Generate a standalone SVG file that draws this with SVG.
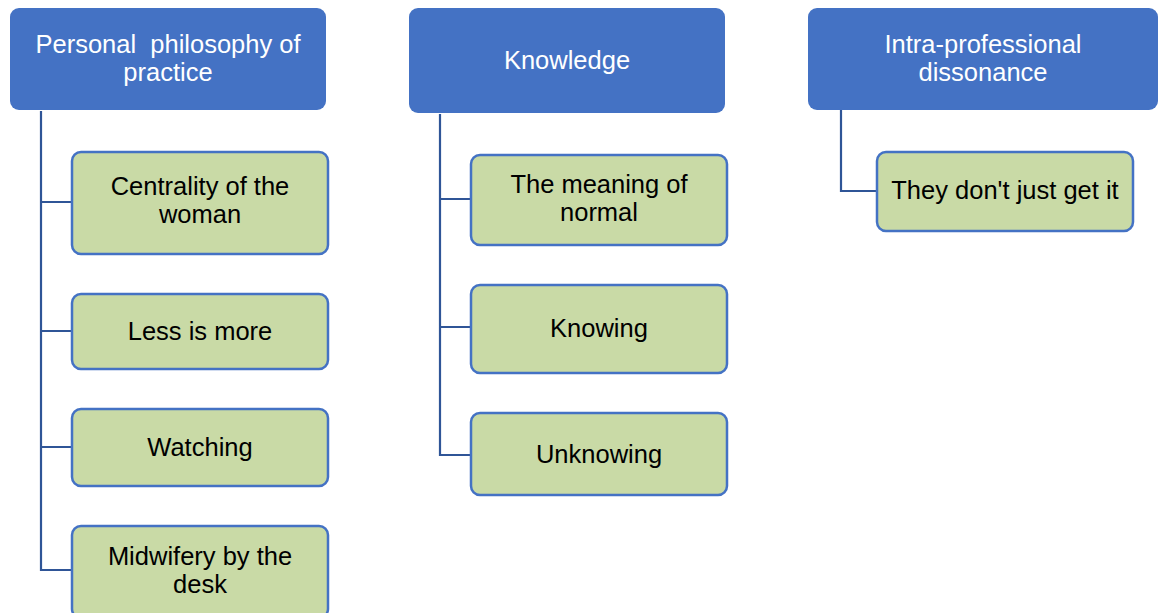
<svg xmlns="http://www.w3.org/2000/svg" width="1159" height="613" viewBox="0 0 1159 613">
<style>
.hdr{fill:#4472C4;}
.sub{fill:#C9DAA6;stroke:#4472C4;stroke-width:2.5;}
.conn{fill:none;stroke:#2F5597;stroke-width:2.2;}
text{font-family:"Liberation Sans",Arial,sans-serif;font-size:25.5px;text-anchor:middle;white-space:pre;}
.ht{fill:#FFFFFF;}
.st{fill:#000000;}
</style>
<rect width="1159" height="613" fill="#FFFFFF"/>
<g id="connectors">
<path class="conn" d="M41,111 V570 H72 M41,202 H72 M41,331 H72 M41,447 H72"/>
<path class="conn" d="M440,114 V455 H471 M440,199 H471 M440,327 H471"/>
<path class="conn" d="M841,110 V191 H877"/>
</g>
<g id="h1"><rect class="hdr" x="10" y="8" width="316" height="102" rx="9"/>
<text class="ht" x="168" y="53" xml:space="preserve">Personal  philosophy of</text><text class="ht" x="168" y="81">practice</text></g>
<g id="h2"><rect class="hdr" x="409" y="8" width="316" height="105" rx="9"/>
<text class="ht" x="567" y="69">Knowledge</text></g>
<g id="h3"><rect class="hdr" x="808" y="8" width="350" height="102" rx="9"/>
<text class="ht" x="983" y="53">Intra-professional</text><text class="ht" x="983" y="81">dissonance</text></g>
<g id="c1"><rect class="sub" x="72" y="152" width="256" height="102" rx="9"/>
<text class="st" x="200" y="195">Centrality of the</text><text class="st" x="200" y="223">woman</text></g>
<g id="c2"><rect class="sub" x="72" y="294" width="256" height="75" rx="9"/>
<text class="st" x="200" y="340">Less is more</text></g>
<g id="c3"><rect class="sub" x="72" y="409" width="256" height="77" rx="9"/>
<text class="st" x="200" y="456">Watching</text></g>
<g id="c4"><rect class="sub" x="72" y="526" width="256" height="92" rx="9"/>
<text class="st" x="200" y="565">Midwifery by the</text><text class="st" x="200" y="593">desk</text></g>
<g id="k1"><rect class="sub" x="471" y="155" width="256" height="90" rx="9"/>
<text class="st" x="599" y="193">The meaning of</text><text class="st" x="599" y="221">normal</text></g>
<g id="k2"><rect class="sub" x="471" y="285" width="256" height="88" rx="9"/>
<text class="st" x="599" y="337">Knowing</text></g>
<g id="k3"><rect class="sub" x="471" y="413" width="256" height="82" rx="9"/>
<text class="st" x="599" y="463">Unknowing</text></g>
<g id="i1"><rect class="sub" x="877" y="152" width="256" height="79" rx="9"/>
<text class="st" x="1005" y="199">They don't just get it</text></g>
</svg>
